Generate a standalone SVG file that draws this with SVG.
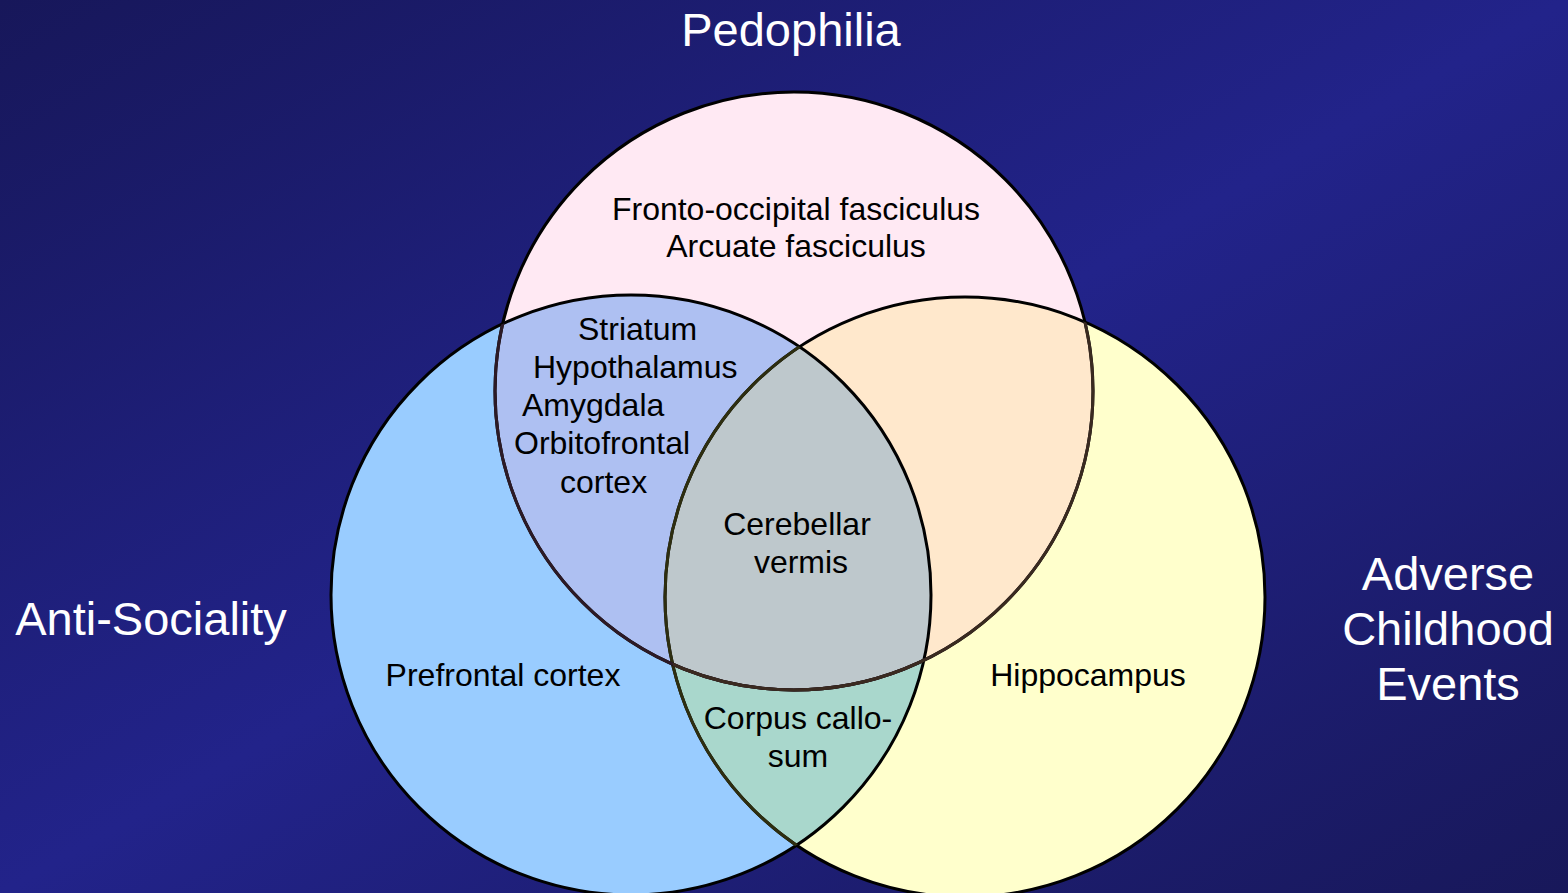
<svg xmlns="http://www.w3.org/2000/svg" width="1568" height="893" viewBox="0 0 1568 893">
<style>
.title{font-family:"Liberation Sans",Arial,sans-serif;font-size:47px;fill:#ffffff;text-anchor:middle}
.lbl{font-family:"Liberation Sans",Arial,sans-serif;font-size:32px;fill:#000000}
.mid{text-anchor:middle}
.edge{fill:none;stroke-width:3}
</style>
<defs>
<linearGradient id="bg" x1="0" y1="0" x2="1" y2="1">
<stop offset="0" stop-color="#17175a"/>
<stop offset="0.5" stop-color="#22238a"/>
<stop offset="1" stop-color="#18185a"/>
</linearGradient>
<clipPath id="cBlue"><circle cx="631" cy="595" r="300"/></clipPath>
<clipPath id="cYellow"><circle cx="965" cy="597" r="300"/></clipPath>
<clipPath id="cPink"><circle cx="794" cy="391" r="299"/></clipPath>
</defs>
<rect x="0" y="0" width="1568" height="893" fill="url(#bg)"/>

<g id="anti-sociality">
<circle cx="631" cy="595" r="300" fill="#99ccff"/>
</g>
<g id="adverse-childhood-events">
<circle cx="965" cy="597" r="300" fill="#ffffcc"/>
<circle cx="965" cy="597" r="300" fill="#a9d7cc" clip-path="url(#cBlue)"/>
</g>
<g id="pedophilia">
<circle cx="794" cy="391" r="299" fill="#ffe9f3"/>
<circle cx="794" cy="391" r="299" fill="#aec0f2" clip-path="url(#cBlue)"/>
<circle cx="794" cy="391" r="299" fill="#ffe8cc" clip-path="url(#cYellow)"/>
<g clip-path="url(#cYellow)"><circle cx="794" cy="391" r="299" fill="#bec8cc" clip-path="url(#cBlue)"/></g>
</g>

<g id="outlines">
<circle class="edge" cx="631" cy="595" r="300" stroke="#000000"/>
<circle class="edge" cx="965" cy="597" r="300" stroke="#000000"/>
<circle class="edge" cx="965" cy="597" r="300" stroke="#2e2e10" clip-path="url(#cBlue)"/>
<circle class="edge" cx="794" cy="391" r="299" stroke="#000000"/>
<circle class="edge" cx="794" cy="391" r="299" stroke="#2c1a26" clip-path="url(#cBlue)"/>
<g clip-path="url(#cYellow)"><circle class="edge" cx="794" cy="391" r="299" stroke="#3a2a20"/></g>
</g>

<g id="titles">
<text class="title" x="791" y="46">Pedophilia</text>
<text class="title" x="151" y="635">Anti-Sociality</text>
<text class="title" x="1448" y="590">Adverse</text>
<text class="title" x="1448" y="645">Childhood</text>
<text class="title" x="1448" y="700">Events</text>
</g>

<g id="labels">
<text class="lbl mid" x="796" y="220">Fronto-occipital fasciculus</text>
<text class="lbl mid" x="796" y="257">Arcuate fasciculus</text>
<text class="lbl" x="578" y="340">Striatum</text>
<text class="lbl" x="533" y="378">Hypothalamus</text>
<text class="lbl" x="522" y="416">Amygdala</text>
<text class="lbl" x="514" y="454">Orbitofrontal</text>
<text class="lbl" x="560" y="493">cortex</text>
<text class="lbl mid" x="797" y="535">Cerebellar</text>
<text class="lbl mid" x="801" y="573">vermis</text>
<text class="lbl mid" x="503" y="686">Prefrontal cortex</text>
<text class="lbl mid" x="1088" y="686">Hippocampus</text>
<text class="lbl mid" x="798" y="729">Corpus callo-</text>
<text class="lbl mid" x="798" y="767">sum</text>
</g>
</svg>
